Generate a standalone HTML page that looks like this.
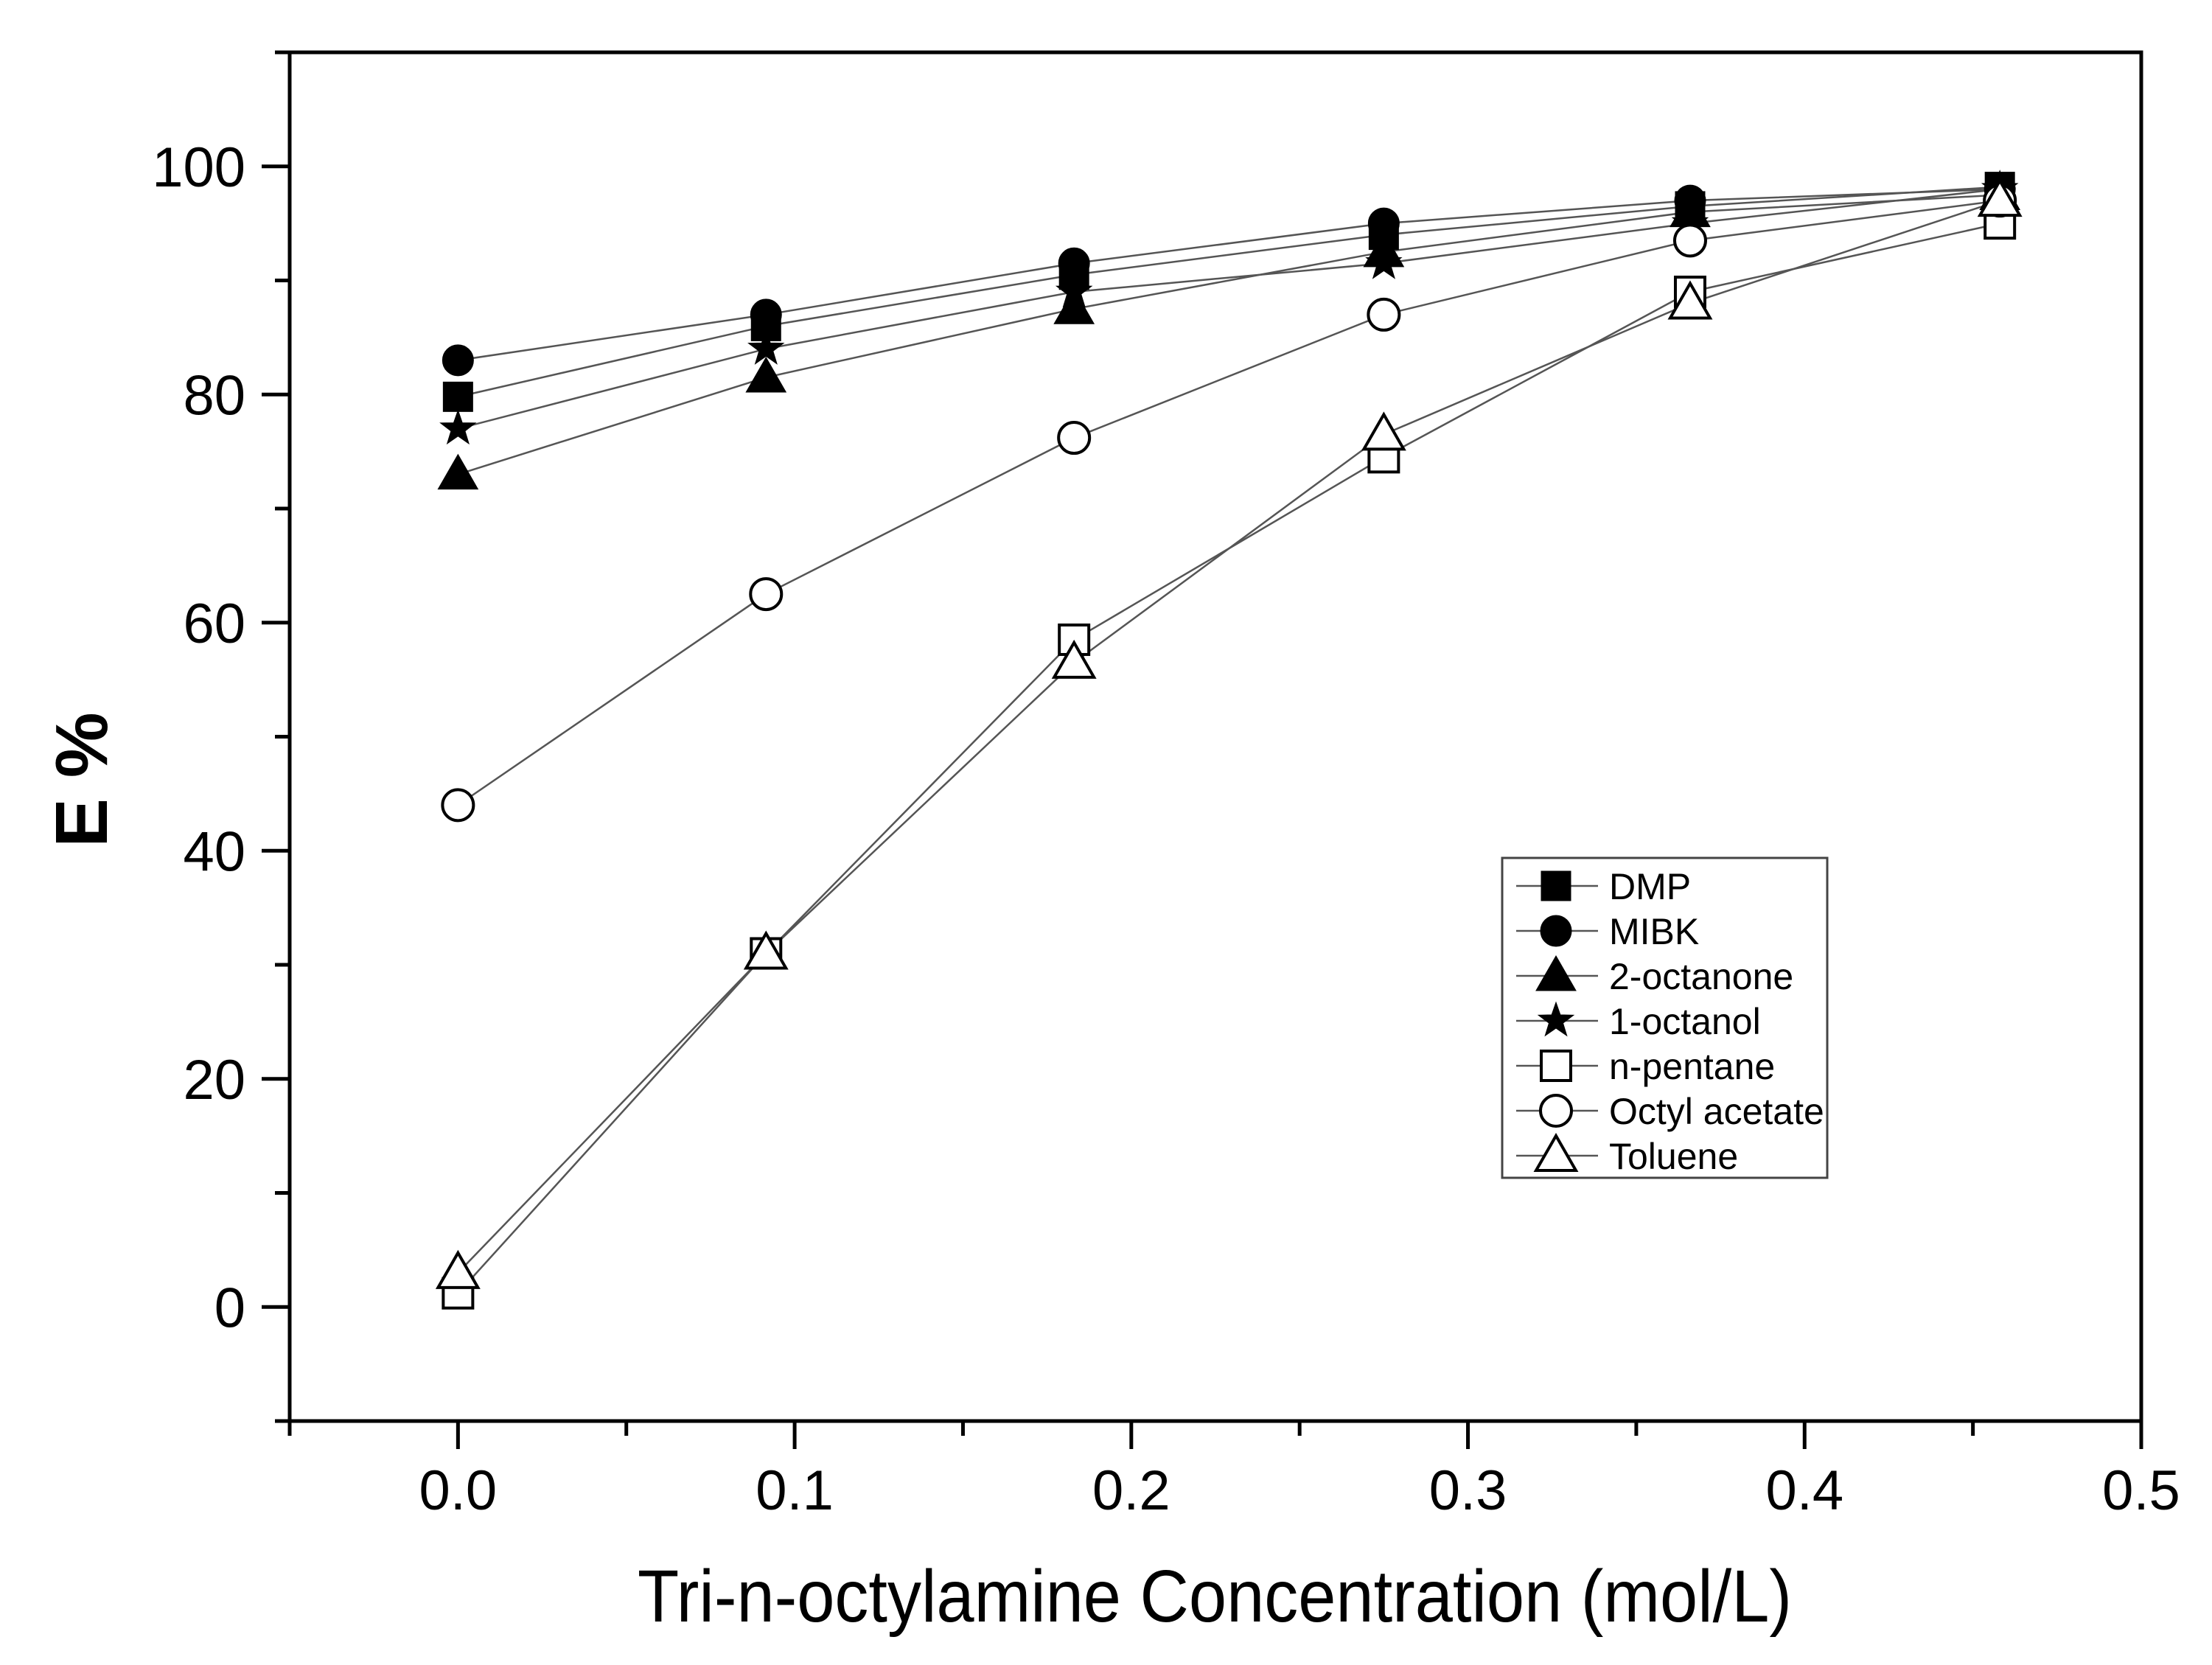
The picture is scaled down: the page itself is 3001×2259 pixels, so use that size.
<!DOCTYPE html>
<html><head><meta charset="utf-8"><style>
html,body{margin:0;padding:0;background:#fff;}
svg{display:block;font-family:"Liberation Sans",Arial,sans-serif;}
</style></head><body>
<svg id="chart" width="3001" height="2259" viewBox="0 0 3001 2259" xmlns="http://www.w3.org/2000/svg">
<g id="plot"></g>
<g id="axes"></g>
<g id="legend"></g>
<text x="1648" y="2200" font-size="100" text-anchor="middle" textLength="1566" lengthAdjust="spacingAndGlyphs">Tri-n-octylamine Concentration (mol/L)</text>
<text transform="translate(145,1058) rotate(-90)" font-size="100" font-weight="bold" text-anchor="middle">E %</text>
</svg>
<script>
const xValues = [0, 0.0915, 0.183, 0.275, 0.366, 0.458];
const seriesNames = ["DMP","MIBK","2-octanone","1-octanol","n-pentane","Octyl acetate","Toluene"];
const dmp = [79.8, 86, 90.5, 94, 96.5, 98.2];
const mibk = [83, 87, 91.5, 95, 97, 98];
const octanone = [73, 81.5, 87.5, 92.5, 96, 97.5];
const octanol = [77, 84, 89, 91.5, 95, 98];
const pentane = [1.2, 31, 58.5, 74.5, 89, 95];
const octylAcetate = [44, 62.5, 76.2, 87, 93.5, 97];
const toluene = [3, 31, 56.5, 76.5, 88, 97];
const xTicks = ["0.0","0.1","0.2","0.3","0.4","0.5"];
const yTicks = ["0","20","40","60","80","100"];

const NS="http://www.w3.org/2000/svg";
const L=393,R=2905,T=71,B=1928;
const X0=-0.05,X1=0.5,Y0=-10,Y1=110;
function sx(v){return L+(v-X0)/(X1-X0)*(R-L);}
function sy(v){return B-(v-Y0)/(Y1-Y0)*(B-T);}
function mk(tag,attrs,parent){const e=document.createElementNS(NS,tag);for(const k in attrs)e.setAttribute(k,attrs[k]);parent.appendChild(e);return e;}

const seriesData=[dmp,mibk,octanone,octanol,pentane,octylAcetate,toluene];
const shapes=["sq","ci","tr","st","sq","ci","tr"];
const filled=[true,true,true,true,false,false,false];

function marker(shape,fill,cx,cy,parent){
  const f=fill?"#000":"#fff";const sw=fill?1:4;let e;
  if(shape==="sq"){e=mk("rect",{x:cx-20,y:cy-20,width:40,height:40,fill:f,stroke:"#000","stroke-width":sw},parent);}
  else if(shape==="ci"){e=mk("circle",{cx:cx,cy:cy,r:21,fill:f,stroke:"#000","stroke-width":sw},parent);}
  else if(shape==="tr"){e=mk("polygon",{points:`${cx},${cy-27} ${cx+27},${cy+20} ${cx-27},${cy+20}`,fill:f,stroke:"#000","stroke-width":sw},parent);}
  else{let p=[];for(let i=0;i<10;i++){const r=i%2?10:25;const a=-Math.PI/2+i*Math.PI/5;p.push((cx+r*Math.cos(a)).toFixed(1)+","+(cy+r*Math.sin(a)).toFixed(1));}
    e=mk("polygon",{points:p.join(" "),fill:"#000",stroke:"#000","stroke-width":1},parent);}
  return e;
}

const plot=document.getElementById("plot");
seriesData.forEach((d,s)=>{
  const g=mk("g",{},plot);
  
  
  const pl=mk("polyline",{points:d.map((v,i)=>sx(xValues[i])+","+sy(v)).join(" "),fill:"none",stroke:"#555","stroke-width":2.5},g);
  
  
});
seriesData.forEach((d,s)=>{
  d.forEach((v,i)=>{
    const m=marker(shapes[s],filled[s],sx(xValues[i]),sy(v),plot);
    
    
  });
});

const ax=document.getElementById("axes");
const frame=mk("rect",{x:L,y:T,width:R-L,height:B-T,fill:"none",stroke:"#000","stroke-width":5},ax);


xTicks.forEach(t=>{
  const x=sx(parseFloat(t));
  const tk=mk("line",{x1:x,y1:B,x2:x,y2:B+38,stroke:"#000","stroke-width":5},ax);
  
  
  const tl=mk("text",{x:x,y:B+120,"font-size":76,"text-anchor":"middle"},ax);tl.textContent=t;
  
  
});
for(let v=-0.05;v<0.5;v+=0.1){
  const x=sx(v);
  const tk=mk("line",{x1:x,y1:B,x2:x,y2:B+20,stroke:"#000","stroke-width":5},ax);
  
  
}
yTicks.forEach(t=>{
  const y=sy(parseFloat(t));
  const tk=mk("line",{x1:L,y1:y,x2:L-38,y2:y,stroke:"#000","stroke-width":5},ax);
  
  
  const tl=mk("text",{x:L-60,y:y+27,"font-size":76,"text-anchor":"end"},ax);tl.textContent=t;
  
  
});
for(let v=-10;v<=110;v+=20){
  const y=sy(v);
  const tk=mk("line",{x1:L,y1:y,x2:L-20,y2:y,stroke:"#000","stroke-width":5},ax);
  
  
}

const lg=document.getElementById("legend");
const box=mk("rect",{x:2038,y:1164,width:441,height:434,fill:"#fff",stroke:"#444","stroke-width":3},lg);


const rowY=[1202,1263,1324,1385,1446,1507,1568];
seriesNames.forEach((n,s)=>{
  const g=mk("g",{},lg);
  
  
  const y=rowY[s];
  mk("line",{x1:2057,y1:y,x2:2168,y2:y,stroke:"#555","stroke-width":2.5},g);
  marker(shapes[s],filled[s],2111,y,g);
  const t=mk("text",{x:2183,y:y+18,"font-size":50},g);t.textContent=n;
});
</script>
</body></html>
